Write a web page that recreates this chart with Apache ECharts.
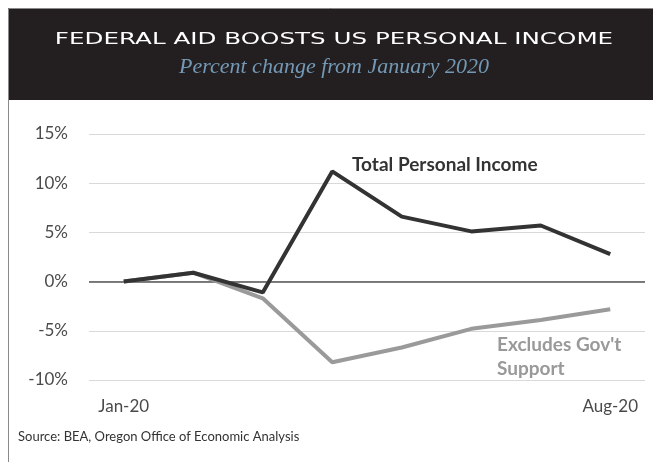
<!DOCTYPE html>
<html>
<head>
<meta charset="utf-8">
<script src="https://cdn.jsdelivr.net/npm/echarts@6/dist/echarts.min.js"></script>
<style>
html,body{margin:0;padding:0;background:#fff;}
#chart{width:653px;height:462px;}
</style>
</head>
<body>
<div id="chart"></div>
<script>
const categories = ['Jan-20','Feb-20','Mar-20','Apr-20','May-20','Jun-20','Jul-20','Aug-20'];
const totalIncome = [0, 0.9, -1.1, 11.2, 6.6, 5.1, 5.7, 2.8];
const excludesGov = [0, 0.9, -1.7, -8.2, -6.7, -4.8, -3.9, -2.8];
const yTicks = [-10, -5, 0, 5, 10, 15];
const shownXLabels = ['Jan-20', 'Aug-20'];

const chart = echarts.init(document.getElementById('chart'), null, {renderer: 'canvas'});
const font = 'Lato';
chart.setOption({
  backgroundColor: '#ffffff',
  animation: false,
  grid: {left: 89, right: 8, top: 134, bottom: 82, containLabel: false},
  xAxis: {
    type: 'category',
    data: categories,
    boundaryGap: true,
    axisLine: {show: false, onZero: false},
    axisTick: {show: false},
    splitLine: {show: false},
    axisLabel: {
      interval: 0,
      formatter: v => shownXLabels.includes(v) ? v : '',
      color: '#4a4a4a', fontFamily: font, fontSize: 17, margin: 18
    }
  },
  yAxis: {
    type: 'value',
    min: yTicks[0], max: yTicks[yTicks.length - 1], interval: 5,
    axisLine: {show: false},
    axisTick: {show: false},
    splitLine: {lineStyle: {color: '#d9d9d9', width: 1.2}},
    axisLabel: {formatter: '{value}%', color: '#4a4a4a', fontFamily: font, fontSize: 17, margin: 21}
  },
  series: [
    {
      name: "Excludes Gov't Support",
      type: 'line', data: excludesGov, symbol: 'none', z: 2,
      lineStyle: {color: '#9a9a9a', width: 4},
      markLine: {
        silent: true, symbol: 'none', label: {show: false},
        lineStyle: {color: '#555555', width: 1.5, type: 'solid'},
        data: [{yAxis: 0}], z: 1
      }
    },
    {
      name: 'Total Personal Income',
      type: 'line', data: totalIncome, symbol: 'none', z: 3,
      lineStyle: {color: '#333333', width: 4}
    }
  ],
  graphic: [
    {type: 'rect', shape: {x: 8, y: 8, width: 645, height: 92}, style: {fill: '#231f20'}, z: 10},
    {type: 'polyline', shape: {points: [[8.5, 462], [8.5, 8.5], [653, 8.5]]}, style: {stroke: '#8a8a8a', lineWidth: 1, fill: null}, z: 11},
    {type: 'text', x: 334, y: 40, scaleX: 1.64, z: 12,
     style: {text: 'FEDERAL AID BOOSTS US PERSONAL INCOME', fill: '#ffffff', font: '15px "DejaVu Sans"', align: 'center', verticalAlign: 'middle'}},
    {type: 'text', x: 334, y: 67, z: 12,
     style: {text: 'Percent change from January 2020', fill: '#7399b6', font: 'italic 22px "Liberation Serif"', align: 'center', verticalAlign: 'middle'}},
    {type: 'text', x: 352, y: 165, z: 12,
     style: {text: 'Total Personal Income', fill: '#333333', font: 'bold 19px Lato', align: 'left', verticalAlign: 'middle'}},
    {type: 'text', x: 497, y: 345, z: 12,
     style: {text: "Excludes Gov't", fill: '#999999', font: 'bold 19px Lato', align: 'left', verticalAlign: 'middle'}},
    {type: 'text', x: 497, y: 369, z: 12,
     style: {text: 'Support', fill: '#999999', font: 'bold 19px Lato', align: 'left', verticalAlign: 'middle'}},
    {type: 'text', x: 18, y: 437, z: 12,
     style: {text: 'Source: BEA, Oregon Office of Economic Analysis', fill: '#333333', font: '13px Lato', align: 'left', verticalAlign: 'middle'}}
  ]
});
</script>
</body>
</html>
